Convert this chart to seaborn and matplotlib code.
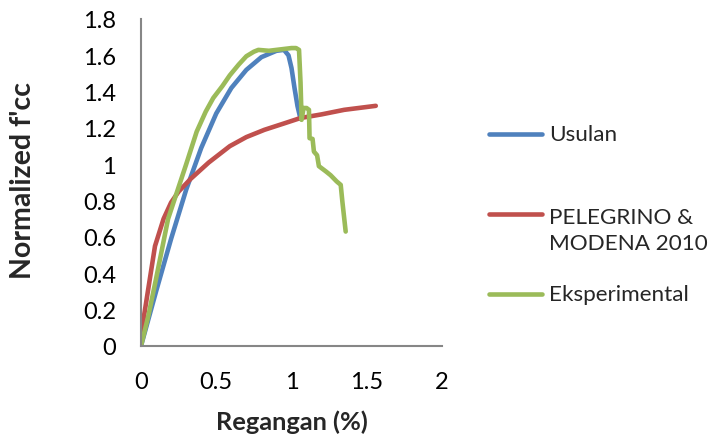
import matplotlib
matplotlib.use("Agg")
import matplotlib.pyplot as plt
from matplotlib.lines import Line2D
import seaborn as sns
import pandas as pd

# Stress-strain curves: strain (%) vs normalized confined strength
usulan_x = [0.0, 0.1, 0.2, 0.3, 0.4, 0.5, 0.6, 0.7, 0.8, 0.9, 0.95, 0.98, 1.0, 1.02, 1.04, 1.06]
usulan_y = [0.0, 0.30, 0.59, 0.86, 1.09, 1.28, 1.42, 1.52, 1.59, 1.625, 1.63, 1.60, 1.53, 1.42, 1.32, 1.25]

pelegrino_x = [0.0, 0.093, 0.15, 0.2, 0.25, 0.33, 0.45, 0.59, 0.7, 0.82, 0.95, 1.06, 1.2, 1.35, 1.56]
pelegrino_y = [0.06, 0.55, 0.70, 0.79, 0.85, 0.92, 1.01, 1.10, 1.15, 1.19, 1.225, 1.255, 1.275, 1.30, 1.322]

eksp_x = [0.0, 0.05, 0.1, 0.18, 0.24, 0.3, 0.37, 0.43, 0.48, 0.54, 0.59, 0.65, 0.70, 0.75,
          0.78, 0.85, 0.9, 0.95, 1.0, 1.03, 1.05, 1.06, 1.067, 1.08, 1.10, 1.116, 1.12, 1.14,
          1.149, 1.17, 1.182, 1.23, 1.26, 1.30, 1.327, 1.338, 1.36]
eksp_y = [0.0, 0.17, 0.37, 0.70, 0.85, 1.0, 1.18, 1.29, 1.365, 1.43, 1.49, 1.55, 1.595, 1.62,
          1.63, 1.625, 1.63, 1.635, 1.64, 1.64, 1.63, 1.45, 1.245, 1.31, 1.31, 1.30, 1.144, 1.14,
          1.07, 1.05, 0.99, 0.96, 0.94, 0.906, 0.887, 0.795, 0.63]

series_names = ["Usulan", "PELEGRINO &\nMODENA 2010", "Eksperimental"]
colors = ["#4F81BD", "#C0504D", "#9BBB59"]

x_ticks = [0, 0.5, 1, 1.5, 2]
x_tick_labels = ["0", "0.5", "1", "1.5", "2"]
y_ticks = [0, 0.2, 0.4, 0.6, 0.8, 1.0, 1.2, 1.4, 1.6, 1.8]
y_tick_labels = ["0", "0.2", "0.4", "0.6", "0.8", "1", "1.2", "1.4", "1.6", "1.8"]

frames = []
for name, xs, ys in zip(series_names, [usulan_x, pelegrino_x, eksp_x], [usulan_y, pelegrino_y, eksp_y]):
    frames.append(pd.DataFrame({"x": xs, "y": ys, "series": name}))
df = pd.concat(frames, ignore_index=True)

sns.set_theme(style="white")
plt.rcParams["font.family"] = ["Lato", "DejaVu Sans"]

W, H = 713, 439
fig = plt.figure(figsize=(W / 100, H / 100), dpi=100)
ax = fig.add_axes([141 / W, 1 - 347 / H, (442 - 141) / W, (347 - 20) / H])

sns.lineplot(data=df, x="x", y="y", hue="series", hue_order=series_names,
             palette=colors, sort=False, estimator=None, units="series",
             linewidth=3.3, legend=False, ax=ax, solid_capstyle="round",
             solid_joinstyle="round")

ax.set_xlim(0, 2)
ax.set_ylim(0, 1.8)
ax.set_xticks(x_ticks)
ax.set_xticklabels(x_tick_labels)
ax.set_yticks(y_ticks)
ax.set_yticklabels(y_tick_labels)
ax.tick_params(axis="both", length=0, labelsize=17, colors="#000000")
ax.tick_params(axis="y", pad=18)
ax.tick_params(axis="x", pad=18)

for side in ["top", "right"]:
    ax.spines[side].set_visible(False)
for side in ["left", "bottom"]:
    ax.spines[side].set_color("#868686")
    ax.spines[side].set_linewidth(1.5)

# Axis titles
ax.set_xlabel("Regangan (%)", fontsize=18.3, fontweight="bold")
ax.xaxis.label.set_va("center")
ax.xaxis.set_label_coords((292 - 141) / 301, (347 - 422) / 327)
ax.set_ylabel("Normalized f'cc", fontsize=20.5, fontweight="bold")
ax.yaxis.label.set_va("center")
ax.yaxis.set_label_coords((23 - 141) / 301, (347 - 181) / 327)

# Legend beside the plot; the two-line entry keeps its handle on the first line
legend_rows = [(135, 135), (215, 231), (295, 295)]
for label, col, (line_y, text_y) in zip(series_names, colors, legend_rows):
    fig.add_artist(Line2D([489 / W, 542 / W], [1 - line_y / H, 1 - line_y / H], color=col,
                          lw=3.3, solid_capstyle="round", transform=fig.transFigure))
    fig.text(549 / W, 1 - text_y / H, label, fontsize=16.2, va="center", ha="left",
             linespacing=1.4, transform=fig.transFigure)

fig.savefig("out.png", dpi=100)
